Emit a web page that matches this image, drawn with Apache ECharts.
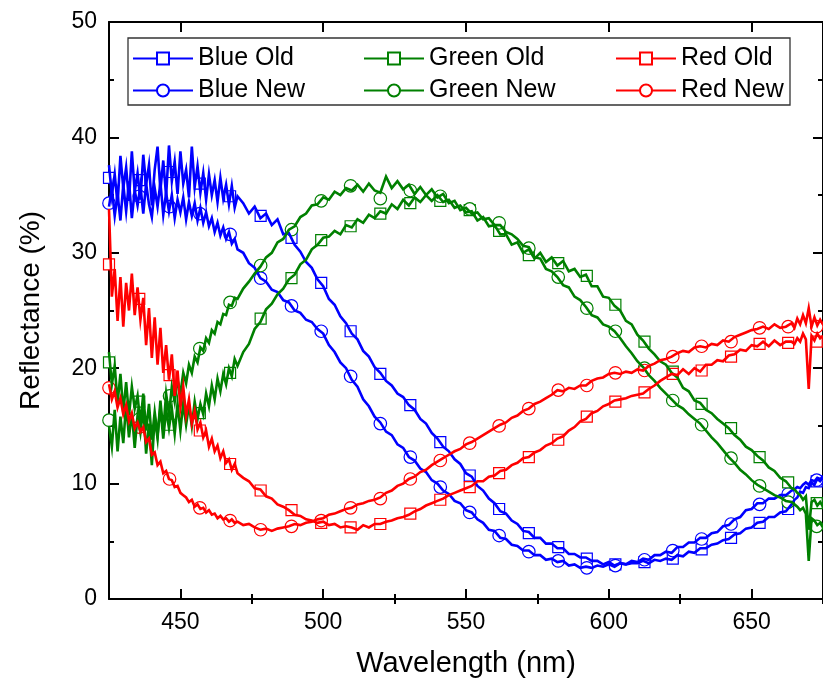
<!DOCTYPE html>
<html>
<head>
<meta charset="utf-8">
<title>Reflectance spectra</title>
<script src="https://cdn.jsdelivr.net/npm/echarts@6/dist/echarts.min.js"></script>
<style>
  html, body { margin: 0; padding: 0; background: #fff; }
  #chart { width: 823px; height: 683px; }
</style>
</head>
<body>
<div id="chart"></div>
<script>
// Sampling grid of the measured spectra (nm)
const wavelength = [
  425,426,427,428,429,430,431,432,433,434,
  435,436,437,438,439,440,441,442,443,444,
  445,446,447,448,449,450,451,452,453,454,
  455,456,457,458,459,460,461,462,463,464,
  465,466,467,468,469,470,
  472,474,476,478,480,482,484,486,488,490,
  492,494,496,498,500,502,504,506,508,510,
  512,514,516,518,520,522,524,526,528,530,
  532,534,536,538,540,542,544,546,548,550,
  552,554,556,558,560,562,564,566,568,570,
  572,574,576,578,580,582,584,586,588,590,
  592,594,596,598,600,602,604,606,608,610,
  612,614,616,618,620,622,624,626,628,630,
  632,634,636,638,640,642,644,646,648,650,
  652,654,656,658,660,662,664,
  665,666,667,668,669,670,671,672,673,674,675
];

// Reflectance (%) of each sample on that grid
const blueOld = [
  37.6,35.0,36.8,34.2,38.4,35.6,37.4,34.5,38.8,35.3,
  36.9,34.6,38.5,35.9,37.6,34.1,37.2,39.2,35.4,38.0,
  34.9,39.3,36.2,37.9,35.1,38.8,36.0,37.2,34.8,39.2,
  35.7,37.5,35.2,36.9,34.6,36.8,35.0,36.3,34.4,36.5,
  34.7,35.9,34.2,35.8,33.9,34.9,
  34.3,33.4,34.0,33.0,33.4,32.4,32.9,31.6,31.7,30.7,
  30.1,29.2,28.7,27.7,27.1,26.0,25.5,24.5,23.9,23.0,
  22.5,21.5,21.0,20.1,19.6,18.9,18.5,17.8,17.5,16.8,
  16.4,15.6,15.2,14.4,13.9,13.2,12.8,12.1,11.7,10.9,
  10.6,9.8,9.4,8.7,8.3,7.6,7.4,6.8,6.5,5.9,
  5.8,5.3,5.3,4.8,4.8,4.4,4.4,3.9,3.9,3.6,
  3.6,3.3,3.3,3.0,3.2,2.9,3.1,3.0,3.1,3.1,
  3.3,3.1,3.4,3.3,3.5,3.4,3.8,3.7,4.1,4.0,
  4.4,4.4,4.7,4.8,5.1,5.2,5.6,5.7,6.1,6.2,
  6.6,6.7,7.1,7.1,7.5,7.6,8.2,
  8.6,8.8,9.3,9.2,9.7,9.6,10.1,9.9,10.4,10.2,10.5
];
const blueNew = [
  34.0,35.6,33.2,35.1,32.8,35.9,33.6,36.2,33.0,35.4,
  34.1,35.8,33.4,36.0,34.2,33.1,35.6,34.0,36.1,33.3,
  35.2,33.6,35.0,33.0,34.6,33.5,34.8,32.9,34.4,33.2,
  34.3,32.8,33.9,32.6,33.5,32.3,33.0,31.8,32.6,31.5,
  32.2,31.2,31.8,30.8,31.2,30.3,
  30.0,29.1,28.7,27.8,27.5,26.8,26.6,25.9,25.7,25.0,
  24.8,24.2,24.0,23.4,23.0,22.0,21.4,20.5,20.0,19.0,
  18.4,17.3,16.7,15.8,15.3,14.5,14.2,13.4,13.1,12.3,
  12.0,11.3,11.0,10.3,10.0,9.4,9.1,8.5,8.3,7.7,
  7.5,6.9,6.6,6.0,5.9,5.3,5.2,4.7,4.6,4.2,
  4.2,3.8,3.8,3.4,3.5,3.2,3.3,2.9,3.0,2.7,
  2.8,2.7,2.9,2.8,3.0,2.8,3.1,3.0,3.3,3.2,
  3.5,3.4,3.8,3.8,4.1,4.0,4.5,4.5,4.9,4.9,
  5.3,5.3,5.7,5.8,6.3,6.4,6.9,7.1,7.7,7.8,
  8.3,8.3,8.7,8.7,9.0,9.0,9.4,
  9.5,9.7,9.6,9.9,10.1,9.9,10.3,10.2,10.5,10.4,10.6
];
const greenOld = [
  21.4,18.6,20.2,17.0,19.5,16.2,18.8,15.9,18.4,16.5,
  17.6,15.2,17.8,14.6,16.9,13.8,16.2,14.2,16.6,13.9,
  16.4,14.8,16.5,14.3,16.9,14.6,17.0,15.1,16.8,15.0,
  17.1,15.6,16.9,16.0,17.8,16.7,18.5,17.3,19.1,18.0,
  19.5,18.6,20.0,19.3,20.8,20.2,
  21.4,22.1,23.4,24.0,25.1,25.6,26.4,26.9,27.7,28.1,
  29.0,29.4,30.3,30.7,31.3,31.4,31.9,31.6,32.4,32.2,
  32.9,32.6,33.3,33.0,33.6,33.4,34.2,33.8,34.6,34.1,
  34.8,34.4,35.0,34.5,35.0,34.4,34.6,33.9,34.1,33.5,
  33.6,32.8,33.1,32.3,32.4,31.6,31.6,30.7,30.9,30.0,
  30.3,29.5,30.0,29.2,29.6,28.9,29.3,28.4,28.6,27.9,
  28.1,27.1,27.1,26.2,26.1,25.4,25.0,24.1,23.8,22.9,
  22.4,21.7,21.2,20.6,20.3,19.6,19.2,18.3,18.0,17.2,
  17.0,16.4,16.1,15.6,15.2,14.8,14.2,13.8,13.2,12.9,
  12.4,12.0,11.4,11.1,10.5,10.2,9.6,
  9.5,9.2,9.0,8.6,8.9,6.0,8.4,8.6,8.1,8.4,8.0
];
const greenNew = [
  15.0,13.2,16.4,12.8,15.8,13.5,16.9,14.0,16.2,13.1,
  15.9,14.4,16.6,12.6,15.2,11.6,15.8,13.9,17.2,14.6,
  17.8,16.0,18.4,17.1,19.0,17.8,19.6,18.7,20.3,19.6,
  21.0,20.5,21.8,21.5,22.6,22.2,23.3,23.0,24.0,23.8,
  24.7,24.6,25.5,25.4,26.1,26.0,
  26.9,27.5,28.2,28.8,29.6,30.0,30.9,31.2,32.0,32.3,
  33.1,33.4,34.1,34.2,34.8,34.6,35.3,35.0,35.6,35.4,
  35.9,35.3,36.0,35.4,35.2,36.6,35.6,36.2,35.5,35.9,
  35.1,35.7,35.0,35.5,34.8,35.1,34.3,34.5,33.7,33.9,
  33.4,33.5,32.9,33.0,32.4,32.4,31.8,31.6,31.2,30.6,
  30.5,29.6,29.5,28.6,28.4,27.9,27.2,27.0,26.2,25.9,
  25.3,24.6,24.4,23.8,23.6,23.2,22.6,21.9,21.3,20.6,
  20.1,19.4,18.9,18.3,17.8,17.3,16.8,16.5,16.0,15.6,
  15.2,14.6,14.0,13.5,12.9,12.3,11.8,11.2,10.8,10.3,
  9.9,9.6,9.3,9.0,8.8,8.5,8.4,
  8.2,8.0,7.7,7.9,7.4,3.3,7.0,6.8,6.4,6.6,6.2
];
const redOld = [
  33.8,26.2,28.6,24.1,27.9,23.6,27.4,25.0,28.2,24.6,
  27.0,24.2,26.1,22.0,25.2,20.9,24.4,20.3,23.5,19.6,
  22.0,19.0,21.2,17.6,19.8,16.6,18.4,15.9,17.3,15.2,
  16.3,14.7,15.3,14.0,14.6,13.2,13.9,12.8,13.3,12.2,
  12.8,11.8,12.1,11.2,11.7,10.9,
  10.5,10.2,9.6,9.5,8.9,8.7,8.2,8.0,7.7,7.3,
  7.2,6.9,6.8,6.6,6.7,6.4,6.5,6.2,6.3,6.2,
  6.0,6.4,6.2,6.5,6.5,6.7,6.8,7.0,7.1,7.3,
  7.6,7.8,8.1,8.3,8.5,8.7,9.0,9.2,9.4,9.6,
  9.8,10.2,10.2,10.6,10.7,11.1,11.2,11.6,11.8,12.2,
  12.3,12.7,12.9,13.3,13.5,13.9,14.1,14.6,14.9,15.4,
  15.6,16.1,16.3,16.7,16.9,17.2,17.3,17.4,17.6,17.7,
  17.8,18.2,18.5,18.9,19.2,19.5,19.4,19.9,19.5,20.0,
  19.7,20.3,20.3,20.7,20.6,21.1,21.2,21.6,21.5,22.0,
  21.9,22.3,21.9,22.4,22.0,22.3,22.3,
  22.1,22.6,22.3,23.0,22.5,18.2,22.8,22.4,23.0,22.6,22.8
];
const redNew = [
  18.6,17.3,18.0,16.6,17.4,16.0,16.8,15.4,16.1,14.8,
  15.3,14.5,14.9,13.6,13.9,12.5,12.7,11.6,11.9,10.9,
  11.1,10.4,10.3,9.7,9.8,9.2,9.0,8.8,8.4,8.6,
  8.0,8.2,7.8,7.9,7.5,7.7,7.3,7.4,7.0,7.2,
  6.9,7.0,6.7,6.9,6.6,6.7,
  6.4,6.5,6.2,6.0,6.1,5.9,6.1,6.2,6.3,6.5,
  6.4,6.6,6.7,6.9,7.0,7.3,7.4,7.6,7.8,7.9,
  8.2,8.3,8.5,8.6,8.8,9.2,9.4,9.8,10.0,10.4,
  10.6,11.0,11.2,11.6,11.9,12.2,12.5,12.8,13.0,13.4,
  13.6,13.9,14.2,14.5,14.8,15.1,15.3,15.7,15.9,16.3,
  16.5,16.9,17.1,17.4,17.7,18.1,18.0,18.3,18.2,18.5,
  18.5,18.9,19.1,19.2,19.5,19.6,19.5,19.7,19.6,19.9,
  19.8,20.2,20.4,20.7,20.8,21.0,21.3,21.5,21.4,21.8,
  21.9,21.8,22.1,22.0,22.4,22.3,22.7,22.9,23.1,23.3,
  23.4,23.6,23.4,23.8,23.5,23.6,23.9,
  23.5,24.3,23.8,24.6,23.9,25.2,23.6,24.4,23.7,24.2,23.8
];

// Wavelengths carrying a plot symbol, and the curve values there
const markerWavelength = [425, 435.6, 446.2, 456.8, 467.4, 478.1, 488.9, 499.3, 509.6, 520,
  530.5, 541, 551.3, 561.6, 572, 582.3, 592.3, 602.3, 612.5, 622.4,
  632.5, 642.8, 652.8, 662.8, 672.8];
const blueOldMarks  = [36.5,36.3,37.0,36.0,34.9,33.2,31.3,27.4,23.2,19.5,16.8,13.6,10.7,7.8,5.7,4.5,3.5,3.0,3.2,3.5,4.3,5.3,6.6,7.8,10.2];
const blueNewMarks  = [34.3,34.9,34.0,33.4,31.6,27.8,25.4,23.2,19.3,15.2,12.3,9.7,7.5,5.5,4.1,3.3,2.7,2.9,3.4,4.2,5.2,6.5,8.2,9.1,10.3];
const greenOldMarks = [20.5,17.1,15.1,16.1,19.6,24.3,27.8,31.1,32.3,33.4,34.3,34.5,33.7,31.9,29.8,29.1,28.0,25.5,22.3,19.7,16.9,14.8,12.3,10.1,8.3];
const greenNewMarks = [15.5,15.6,17.6,21.7,25.7,28.9,32.0,34.5,35.8,34.7,35.4,34.9,33.8,32.6,30.4,27.9,25.2,23.2,20.0,17.2,15.1,12.2,9.8,8.4,6.3];
const redOldMarks   = [29.0,26.0,19.4,14.6,11.7,9.4,7.7,6.6,6.2,6.5,7.4,8.6,9.7,10.9,12.3,13.8,15.8,17.1,17.9,19.5,19.8,21.0,22.1,22.2,22.3];
const redNewMarks   = [18.3,14.9,10.4,7.9,6.8,6.0,6.3,6.8,7.9,8.7,10.4,12.0,13.5,15.0,16.5,18.1,18.5,19.6,19.8,21.0,21.9,22.3,23.5,23.6,23.6];

// Axis ticks
const xMajorTicks = [450, 500, 550, 600, 650];
const xMinorTicks = [475, 525, 575, 625, 675];

const BLUE = '#0000ff', GREEN = '#008000', RED = '#ff0000';
const FONT = '"Liberation Sans", Arial, sans-serif';

[blueOld, blueNew, greenOld, greenNew, redOld, redNew].forEach(function (arr) {
  if (arr.length !== wavelength.length) throw new Error('length mismatch ' + arr.length);
});

function pairs(xs, ys) { return xs.map(function (x, i) { return [x, ys[i]]; }); }

function curve(name, values, color, symbol) {
  return {
    type: 'line', name: name, data: pairs(wavelength, values),
    symbol: symbol, showSymbol: false, sampling: null,
    lineStyle: { color: color, width: 2.6, join: 'miter' }, itemStyle: { color: color },
    emphasis: { disabled: true }, animation: false
  };
}
function marks(name, values, color, symbol, size) {
  return {
    type: 'scatter', name: name + ' points', data: pairs(markerWavelength, values),
    symbol: symbol, symbolSize: size,
    itemStyle: { color: '#ffffff', borderColor: color, borderWidth: 1.2, opacity: 1 },
    emphasis: { disabled: true }, animation: false, clip: true
  };
}

const series = [
  curve('Blue Old', blueOld, BLUE, 'emptyRect'),   marks('Blue Old', blueOldMarks, BLUE, 'rect', 11),
  curve('Blue New', blueNew, BLUE, 'emptyCircle'), marks('Blue New', blueNewMarks, BLUE, 'circle', 12.5),
  curve('Green Old', greenOld, GREEN, 'emptyRect'),   marks('Green Old', greenOldMarks, GREEN, 'rect', 11),
  curve('Green New', greenNew, GREEN, 'emptyCircle'), marks('Green New', greenNewMarks, GREEN, 'circle', 12.5),
  curve('Red Old', redOld, RED, 'emptyRect'),   marks('Red Old', redOldMarks, RED, 'rect', 11),
  curve('Red New', redNew, RED, 'emptyCircle'), marks('Red New', redNewMarks, RED, 'circle', 12.5)
];

const axisLine = { show: true, onZero: false, lineStyle: { color: '#000', width: 2 } };
function xAxis(position, ticks, len, withLine, withLabels, name) {
  return {
    type: 'value', position: position, min: 425, max: 675, gridIndex: 0,
    axisLine: withLine ? axisLine : { show: false },
    axisTick: { show: true, inside: true, length: len, customValues: ticks,
                lineStyle: { color: '#000', width: 2 } },
    axisLabel: withLabels
      ? { show: true, customValues: ticks, fontSize: 23, color: '#000', fontFamily: FONT, margin: 12 }
      : { show: false },
    splitLine: { show: false },
    name: name || '', nameLocation: 'middle', nameGap: 50,
    nameTextStyle: { fontSize: 29, color: '#000', fontFamily: FONT }
  };
}
function yAxis(position, withLabels, name) {
  return {
    type: 'value', position: position, min: 0, max: 50, interval: 10,
    axisLine: axisLine,
    axisTick: { show: true, inside: true, length: 10, lineStyle: { color: '#000', width: 2 } },
    minorTick: { show: true, splitNumber: 2, length: 5, lineStyle: { color: '#000', width: 2 } },
    axisLabel: withLabels
      ? { show: true, fontSize: 23, color: '#000', fontFamily: FONT, margin: 12 }
      : { show: false },
    splitLine: { show: false }, minorSplitLine: { show: false },
    name: name || '', nameLocation: 'middle', nameGap: 64, nameRotate: 90,
    nameTextStyle: { fontSize: 28, color: '#000', fontFamily: FONT }
  };
}

function legendColumn(names, left) {
  return {
    data: names, orient: 'vertical', left: left, top: 46,
    itemWidth: 60, itemHeight: 15, itemGap: 7,
    textStyle: { fontSize: 25, color: '#000', fontFamily: FONT },
    selectedMode: false, padding: 0
  };
}

const chart = echarts.init(document.getElementById('chart'), null, { renderer: 'canvas' });
chart.setOption({
  animation: false,
  backgroundColor: '#ffffff',
  textStyle: { fontFamily: FONT },
  grid: { left: 109, top: 22, width: 718.5, height: 578, containLabel: false },
  xAxis: [
    xAxis('bottom', xMajorTicks, 10, true, true, 'Wavelength (nm)'),
    xAxis('bottom', xMinorTicks, 5, false, false),
    xAxis('top', xMajorTicks, 10, true, false),
    xAxis('top', xMinorTicks, 5, false, false)
  ],
  yAxis: [
    yAxis('left', true, 'Reflectance (%)'),
    yAxis('right', false)
  ],
  legend: [
    legendColumn(['Blue Old', 'Blue New'], 132),
    legendColumn(['Green Old', 'Green New'], 363),
    legendColumn(['Red Old', 'Red New'], 615)
  ],
  graphic: [{
    type: 'rect', z: 3, silent: true,
    shape: { x: 128, y: 38, width: 662, height: 67 },
    style: { fill: '#ffffff', stroke: '#333333', lineWidth: 1.3 }
  }],
  series: series
});
</script>
</body>
</html>
